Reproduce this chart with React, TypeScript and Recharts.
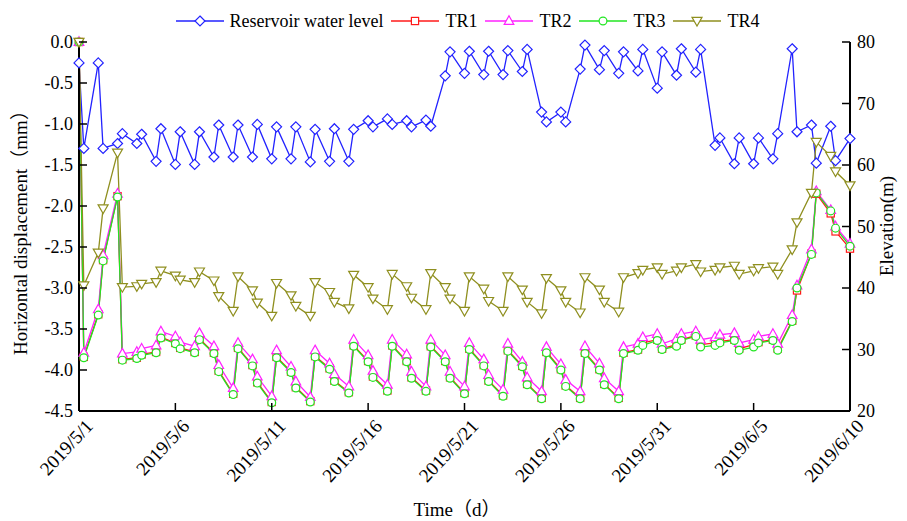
import React from 'react';
import { LineChart, Line, XAxis, YAxis, Legend, Label } from 'recharts';

const FONT = "'Liberation Serif','Times New Roman','Noto Sans CJK SC',serif";

// time in days since 2019/5/1
const times = [0,0.25,1,1.25,2,2.25,3,3.25,4,4.25,5,5.25,6,6.25,7,7.25,8,8.25,9,9.25,10,10.25,11,11.25,12,12.25,13,13.25,14,14.25,15,15.25,16,16.25,17,17.25,18,18.25,19,19.25,20,20.25,21,21.25,22,22.25,23,23.25,24,24.25,25,25.25,26,26.25,27,27.25,28,28.25,29,29.25,30,30.25,31,31.25,32,32.25,33,33.25,34,34.25,35,35.25,36,36.25,37,37.25,38,38.25,39,39.25,40];

const tickDays = [0, 5, 10, 15, 20, 25, 30, 35, 40];
const tickLabels = ['2019/5/1','2019/5/6','2019/5/11','2019/5/16','2019/5/21','2019/5/26','2019/5/31','2019/6/5','2019/6/10'];
const leftTicks = [0, -0.5, -1, -1.5, -2, -2.5, -3, -3.5, -4, -4.5];
const rightTicks = [20, 30, 40, 50, 60, 70, 80];

const seriesNames = ['Reservoir water level', 'TR1', 'TR2', 'TR3', 'TR4'];

// Reservoir water level (m), right axis
const waterLevel = [
  76.6,62.7, 76.6,62.7, 63.5,65.1, 63.5,65.0, 60.6,65.9, 60.1,65.4, 60.1,65.4, 61.3,66.5, 61.3,66.5, 61.3,66.6,
  61.0,66.2, 61.0,66.2, 60.5,65.8, 60.6,65.9, 60.6,65.8, 67.2,66.2, 67.5,66.6, 67.2,66.2, 67.3,66.3, 74.5,78.4,
  74.9,78.5, 74.7,78.5, 74.7,78.6, 75.2,78.8, 68.6,67.0, 68.6,67.0, 75.6,79.5, 75.5,78.6, 74.9,78.4, 75.3,78.8,
  72.5,78.4, 74.6,78.9, 75.1,78.8, 63.2,64.4, 60.2,64.4, 60.2,64.4, 61.0,65.1, 78.9,65.4, 66.5,60.3, 66.3,60.7,
  64.3,
];

// Horizontal displacement (mm), left axis
const tr1 = [
  0.0,-3.84, -3.32,-2.66, -1.88,-3.87, -3.85,-3.81, -3.78,-3.60, -3.67,-3.73, -3.78,-3.62, -3.79,-4.01, -4.29,-3.73, -3.94,-4.15,
  -4.39,-3.84, -4.02,-4.21, -4.38,-3.83, -3.98,-4.13, -4.27,-3.70, -3.89,-4.08, -4.25,-3.70, -3.89,-4.09, -4.25,-3.71, -3.89,-4.09,
  -4.28,-3.74, -3.94,-4.13, -4.31,-3.76, -3.95,-4.17, -4.34,-3.78, -3.99,-4.19, -4.34,-3.79, -3.99,-4.17, -4.34,-3.79, -3.75,-3.67,
  -3.63,-3.74, -3.69,-3.63, -3.58,-3.69, -3.67,-3.65, -3.63,-3.74, -3.69,-3.66, -3.63,-3.74, -3.40,-3.03, -2.58,-1.85, -2.09,-2.31,
  -2.52,
];

const tr2 = [
  0.0,-3.79, -3.26,-2.60, -1.85,-3.80, -3.78,-3.74, -3.70,-3.53, -3.59,-3.66, -3.71,-3.55, -3.71,-3.94, -4.22,-3.67, -3.87,-4.08,
  -4.32,-3.76, -3.96,-4.14, -4.33,-3.76, -3.92,-4.05, -4.20,-3.63, -3.82,-4.01, -4.18,-3.63, -3.81,-4.02, -4.20,-3.63, -3.82,-4.02,
  -4.20,-3.67, -3.87,-4.06, -4.24,-3.68, -3.90,-4.09, -4.26,-3.72, -3.93,-4.12, -4.26,-3.71, -3.92,-4.10, -4.26,-3.72, -3.68,-3.60,
  -3.56,-3.68, -3.62,-3.56, -3.53,-3.63, -3.60,-3.57, -3.55,-3.67, -3.63,-3.59, -3.56,-3.68, -3.33,-2.97, -2.53,-1.82, -2.05,-2.25,
  -2.46,
];

const tr3 = [
  0.0,-3.85, -3.33,-2.67, -1.89,-3.88, -3.86,-3.82, -3.79,-3.61, -3.68,-3.74, -3.79,-3.63, -3.80,-4.02, -4.30,-3.74, -3.95,-4.16,
  -4.40,-3.85, -4.03,-4.22, -4.39,-3.84, -3.99,-4.14, -4.28,-3.71, -3.90,-4.09, -4.26,-3.71, -3.90,-4.10, -4.26,-3.72, -3.90,-4.10,
  -4.29,-3.75, -3.95,-4.14, -4.32,-3.77, -3.96,-4.18, -4.35,-3.79, -4.00,-4.20, -4.35,-3.80, -4.00,-4.18, -4.35,-3.80, -3.76,-3.70,
  -3.64,-3.75, -3.71,-3.64, -3.59,-3.72, -3.70,-3.67, -3.64,-3.76, -3.72,-3.67, -3.64,-3.76, -3.41,-3.00, -2.59,-1.84, -2.06,-2.27,
  -2.49,
];

const tr4 = [
  0.0,-2.97, -2.57,-2.03, -1.35,-2.99, -2.98,-2.95, -2.93,-2.79, -2.85,-2.90, -2.93,-2.80, -2.91,-3.10, -3.28,-2.86, -3.03,-3.18,
  -3.34,-2.94, -3.09,-3.22, -3.34,-2.93, -3.05,-3.17, -3.25,-2.84, -2.99,-3.13, -3.26,-2.83, -2.98,-3.12, -3.26,-2.82, -2.99,-3.13,
  -3.28,-2.86, -3.01,-3.16, -3.28,-2.86, -3.02,-3.17, -3.31,-2.88, -3.03,-3.17, -3.30,-2.87, -3.02,-3.17, -3.29,-2.87, -2.82,-2.78,
  -2.75,-2.83, -2.79,-2.75, -2.71,-2.80, -2.78,-2.75, -2.73,-2.83, -2.79,-2.76, -2.74,-2.83, -2.53,-2.20, -1.84,-1.22, -1.39,-1.58,
  -1.75,
];

const rows = times.map((t, i) => ({
  t,
  level: waterLevel[i],
  tr1: tr1[i],
  tr2: tr2[i],
  tr3: tr3[i],
  tr4: tr4[i],
}));

const BLUE = '#2222ff';
const RED = '#ff1a1a';
const MAGENTA = '#ff22ff';
const GREEN = '#22e622';
const OLIVE = '#8f8f1f';

const styles = [
  { key: 'level', color: BLUE, shape: 'diamond', axis: 'right' },
  { key: 'tr1', color: RED, shape: 'square', axis: 'left' },
  { key: 'tr2', color: MAGENTA, shape: 'triangle', axis: 'left' },
  { key: 'tr3', color: GREEN, shape: 'circle', axis: 'left' },
  { key: 'tr4', color: OLIVE, shape: 'down', axis: 'left' },
];

function Marker({ shape, cx, cy, color }: { shape: string; cx: number; cy: number; color: string }) {
  const common = { fill: '#fff', stroke: color, strokeWidth: 1.2 };
  if (shape === 'diamond') {
    return <polygon points={`${cx},${cy - 5} ${cx + 5},${cy} ${cx},${cy + 5} ${cx - 5},${cy}`} {...common} />;
  }
  if (shape === 'square') {
    return <rect x={cx - 3.6} y={cy - 3.6} width={7.2} height={7.2} {...common} />;
  }
  if (shape === 'triangle') {
    return <polygon points={`${cx},${cy - 5.2} ${cx + 4.8},${cy + 3.4} ${cx - 4.8},${cy + 3.4}`} {...common} />;
  }
  if (shape === 'circle') {
    return <circle cx={cx} cy={cy} r={3.9} {...common} />;
  }
  return <polygon points={`${cx - 5},${cy - 3.6} ${cx + 5},${cy - 3.6} ${cx},${cy + 5}`} {...common} />;
}

const makeDot = (shape: string, color: string) => (props: any) => {
  const { cx, cy, index } = props;
  if (cx == null || cy == null) return <g key={`${shape}-${index}`} />;
  return (
    <g key={`${shape}-${index}`}>
      <Marker shape={shape} cx={cx} cy={cy} color={color} />
    </g>
  );
};

const XTick = (props: any) => {
  const { x, y, payload } = props;
  const idx = tickDays.indexOf(payload.value);
  const ax = x + 15;
  const ay = y + 16;
  return (
    <g>
      <line x1={x} y1={y} x2={x} y2={y - 8} stroke="#000" strokeWidth={1.5} />
      <text x={ax} y={ay} textAnchor="end" fontSize={19} fontFamily={FONT} fill="#000" transform={`rotate(-47 ${ax} ${ay})`}>
        {tickLabels[idx]}
      </text>
    </g>
  );
};

const LeftTick = (props: any) => {
  const { x, y, payload } = props;
  return (
    <g>
      <line x1={x} y1={y} x2={x + 8} y2={y} stroke="#000" strokeWidth={1.5} />
      <text x={x - 6} y={y + 6} textAnchor="end" fontSize={18} fontFamily={FONT} fill="#000">
        {Number(payload.value).toFixed(1)}
      </text>
    </g>
  );
};

const RightTick = (props: any) => {
  const { x, y, payload } = props;
  return (
    <g>
      <line x1={x} y1={y} x2={x - 8} y2={y} stroke="#000" strokeWidth={1.5} />
      <text x={x + 7} y={y + 6} textAnchor="start" fontSize={18} fontFamily={FONT} fill="#000">
        {payload.value}
      </text>
    </g>
  );
};

const LegendBox = () => (
  <div
    style={{
      display: 'flex',
      justifyContent: 'center',
      alignItems: 'center',
      paddingLeft: 28,
      fontFamily: FONT,
      fontSize: 18,
      color: '#000',
      lineHeight: '20px',
    }}
  >
    {styles.map((s, i) => (
      <div key={s.key} style={{ display: 'flex', alignItems: 'center', marginRight: i === styles.length - 1 ? 0 : 8 }}>
        <svg width={48} height={16} style={{ marginRight: 6 }}>
          <line x1={0} y1={8} x2={48} y2={8} stroke={s.color} strokeWidth={1.3} />
          <Marker shape={s.shape} cx={24} cy={8} color={s.color} />
        </svg>
        <span style={{ whiteSpace: 'nowrap' }}>{seriesNames[i]}</span>
      </div>
    ))}
  </div>
);

export default function App() {
  return (
    <div style={{ position: 'absolute', left: 0, top: 0, width: 907, height: 521, background: '#fff' }}>
      <LineChart width={907} height={521} data={rows} margin={{ top: 42, right: 0, bottom: 0, left: 0 }}>
        <XAxis
          dataKey="t"
          type="number"
          domain={[0, 40]}
          ticks={tickDays}
          interval={0}
          height={110}
          tickSize={0}
          tickMargin={0}
          tickLine={false}
          axisLine={{ stroke: '#000', strokeWidth: 2 }}
          tick={<XTick />}
        >
          <Label
            content={() => (
              <text x={457} y={516} textAnchor="middle" fontSize={19} fontFamily={FONT} fill="#000">
                Time（d）
              </text>
            )}
          />
        </XAxis>
        <YAxis
          yAxisId="left"
          domain={[-4.5, 0]}
          ticks={leftTicks}
          interval={0}
          width={79}
          tickSize={0}
          tickMargin={0}
          tickLine={false}
          axisLine={{ stroke: '#000', strokeWidth: 2 }}
          tick={<LeftTick />}
        >
          <Label
            content={() => (
              <text x={27} y={228} textAnchor="middle" fontSize={19} fontFamily={FONT} fill="#000" transform="rotate(-90 27 228)">
                Horizontal displacement（mm）
              </text>
            )}
          />
        </YAxis>
        <YAxis
          yAxisId="right"
          orientation="right"
          domain={[20, 80]}
          ticks={rightTicks}
          interval={0}
          width={57}
          tickSize={0}
          tickMargin={0}
          tickLine={false}
          axisLine={{ stroke: '#000', strokeWidth: 2 }}
          tick={<RightTick />}
        >
          <Label
            content={() => (
              <text x={893} y={226} textAnchor="middle" fontSize={19} fontFamily={FONT} fill="#000" transform="rotate(-90 893 226)">
                Elevation(m)
              </text>
            )}
          />
        </YAxis>
        <Legend
          verticalAlign="middle"
          align="center"
          layout="horizontal"
          wrapperStyle={{ top: 11, left: 0, width: 907 }}
          content={() => <LegendBox />}
        />
        {styles.map((s) => (
          <Line
            key={s.key}
            yAxisId={s.axis}
            dataKey={s.key}
            type="linear"
            stroke={s.color}
            strokeWidth={1.3}
            dot={makeDot(s.shape, s.color)}
            activeDot={false}
            isAnimationActive={false}
          />
        ))}
      </LineChart>
    </div>
  );
}
